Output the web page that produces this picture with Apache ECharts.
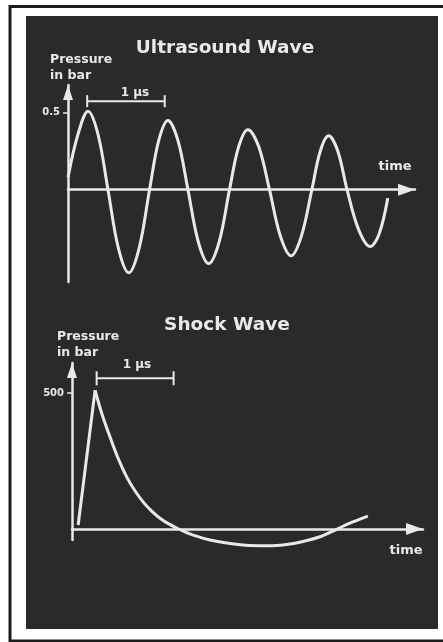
<!DOCTYPE html>
<html>
<head>
<meta charset="utf-8">
<script src="https://cdn.jsdelivr.net/npm/echarts@6/dist/echarts.min.js"></script>
<style>
html,body{margin:0;padding:0;background:#fff;}
#chart{width:443px;height:642px;}
</style>
</head>
<body>
<div id="chart"></div>
<script>
// ---------- DATA ----------
// Ultrasound wave: time in µs, pressure in bar (read at peaks, troughs, zero crossings and in between)
const usTime     = [0.00, 0.125, 0.25, 0.375, 0.50, 0.63, 0.76, 0.89, 1.02, 1.135, 1.25, 1.375, 1.50, 1.63, 1.76, 1.89, 2.02, 2.135, 2.25, 2.385, 2.52, 2.655, 2.79, 2.92, 3.05, 3.155, 3.26, 3.375, 3.49, 3.635, 3.78, 3.89, 4.00];
const usPressure = [0.08, 0.36, 0.51, 0.36, 0.00, -0.38, -0.54, -0.38, 0.00, 0.32, 0.45, 0.32, 0.00, -0.34, -0.48, -0.34, 0.00, 0.28, 0.39, 0.28, 0.00, -0.30, -0.43, -0.30, 0.00, 0.25, 0.35, 0.25, 0.00, -0.26, -0.37, -0.29, -0.055];
// Shock wave: rise and decay, time in µs, pressure in bar
const swRiseTime      = [0.08, 0.30];
const swRisePressure  = [15, 510];
const swDecayTime     = [0.299, 0.390, 0.494, 0.597, 0.710, 0.818, 0.926, 1.035, 1.143, 1.251, 1.360, 1.468, 1.575, 1.792, 2.009, 2.312, 2.610, 2.831, 3.052, 3.221, 3.390, 3.610, 3.844];
const swDecayPressure = [510, 422, 338, 261, 192, 141, 99, 66, 40, 20, 4, -10, -22, -40, -51, -60, -61, -55, -42, -28, -7, 22, 48];
// 1 µs scale bars
const usBarTime = [0.24, 1.21];
const usBarLevel = 0.575;
const swBarTime = [0.32, 1.32];
const swBarLevel = 554;
// tick labels
const usTicks = [0.5];
const swTicks = [500];
// texts
const usTitle = 'Ultrasound Wave';
const swTitle = 'Shock Wave';
const yName = 'Pressure\nin bar';
const xName = 'time';
const barLabel = '1 µs';

// ---------- STYLE ----------
const FG = '#e9e9e9';
const PANEL = '#2a2a2a';
const FONT = 'DejaVu Sans';

const zip = (a, b) => a.map((v, i) => [v, b[i]]);

function axisLine(size) {
  return {
    show: true,
    onZero: true,
    symbol: ['none', 'triangle'],
    symbolSize: size,
    symbolOffset: [0, -size[1] / 2],
    lineStyle: { color: FG, width: 2.5 }
  };
}

const chart = echarts.init(document.getElementById('chart'), null, { renderer: 'canvas' });

const option = {
  animation: false,
  backgroundColor: '#ffffff',
  graphic: [
    { type: 'rect', z: -10, shape: { x: 10, y: 6.5, width: 470, height: 634.5 }, style: { fill: 'none', stroke: '#1c1c1c', lineWidth: 3 } },
    { type: 'rect', z: -9, shape: { x: 26, y: 16, width: 412, height: 613 }, style: { fill: PANEL } },
    { type: 'text', z: 100, x: 225, y: 48, style: { text: usTitle, fill: FG, font: 'bold 18.5px "' + FONT + '"', textAlign: 'center', textVerticalAlign: 'middle' } },
    { type: 'text', z: 100, x: 50, y: 52, style: { text: yName, fill: FG, font: 'bold 12.5px "' + FONT + '"', lineHeight: 16, textAlign: 'left', textVerticalAlign: 'top' } },
    { type: 'text', z: 100, x: 135, y: 93, style: { text: barLabel, fill: FG, font: 'bold 12px "' + FONT + '"', textAlign: 'center', textVerticalAlign: 'middle' } },
    { type: 'text', z: 100, x: 395, y: 167, style: { text: xName, fill: FG, font: 'bold 13px "' + FONT + '"', textAlign: 'center', textVerticalAlign: 'middle' } },
    { type: 'text', z: 100, x: 227, y: 325, style: { text: swTitle, fill: FG, font: 'bold 18.5px "' + FONT + '"', textAlign: 'center', textVerticalAlign: 'middle' } },
    { type: 'text', z: 100, x: 57, y: 329, style: { text: yName, fill: FG, font: 'bold 12.5px "' + FONT + '"', lineHeight: 16, textAlign: 'left', textVerticalAlign: 'top' } },
    { type: 'text', z: 100, x: 137, y: 365, style: { text: barLabel, fill: FG, font: 'bold 12px "' + FONT + '"', textAlign: 'center', textVerticalAlign: 'middle' } },
    { type: 'text', z: 100, x: 406, y: 551, style: { text: xName, fill: FG, font: 'bold 13px "' + FONT + '"', textAlign: 'center', textVerticalAlign: 'middle' } }
  ],
  grid: [
    { left: 68, top: 85, width: 347, height: 197 },
    { left: 72, top: 363, width: 351, height: 177 }
  ],
  xAxis: [
    { type: 'value', gridIndex: 0, min: 0, max: 4.34, axisLine: axisLine([12, 17]), axisTick: { show: false }, axisLabel: { show: false }, splitLine: { show: false } },
    { type: 'value', gridIndex: 1, min: 0, max: 4.56, axisLine: axisLine([12, 17]), axisTick: { show: false }, axisLabel: { show: false }, splitLine: { show: false } }
  ],
  yAxis: [
    { type: 'value', gridIndex: 0, min: -0.6, max: 0.68,
      axisLine: axisLine([10, 15]),
      axisTick: { show: true, customValues: usTicks, length: 5, lineStyle: { color: FG, width: 1.5 } },
      axisLabel: { show: true, customValues: usTicks, color: FG, fontSize: 10, fontWeight: 'bold', fontFamily: FONT, margin: 8 },
      splitLine: { show: false } },
    { type: 'value', gridIndex: 1, min: -40, max: 610,
      axisLine: axisLine([10, 15]),
      axisTick: { show: true, customValues: swTicks, length: 5, lineStyle: { color: FG, width: 1.5 } },
      axisLabel: { show: true, customValues: swTicks, color: FG, fontSize: 10, fontWeight: 'bold', fontFamily: FONT, margin: 8 },
      splitLine: { show: false } }
  ],
  series: [
    { type: 'line', xAxisIndex: 0, yAxisIndex: 0, data: zip(usTime, usPressure), smooth: 0.35, showSymbol: false, clip: false,
      lineStyle: { color: FG, width: 3 } },
    { type: 'line', xAxisIndex: 0, yAxisIndex: 0, data: usBarTime.map(t => [t, usBarLevel]), symbol: 'rect', symbolSize: [2, 12], showSymbol: true, clip: false,
      itemStyle: { color: FG }, lineStyle: { color: FG, width: 2 } },
    { type: 'line', xAxisIndex: 1, yAxisIndex: 1, data: zip(swRiseTime, swRisePressure), showSymbol: false, clip: false,
      lineStyle: { color: FG, width: 3 } },
    { type: 'line', xAxisIndex: 1, yAxisIndex: 1, data: zip(swDecayTime, swDecayPressure), smooth: 0.3, showSymbol: false, clip: false,
      lineStyle: { color: FG, width: 3 } },
    { type: 'line', xAxisIndex: 1, yAxisIndex: 1, data: swBarTime.map(t => [t, swBarLevel]), symbol: 'rect', symbolSize: [2, 14], showSymbol: true, clip: false,
      itemStyle: { color: FG }, lineStyle: { color: FG, width: 2 } }
  ]
};
chart.setOption(option);
</script>
</body>
</html>
